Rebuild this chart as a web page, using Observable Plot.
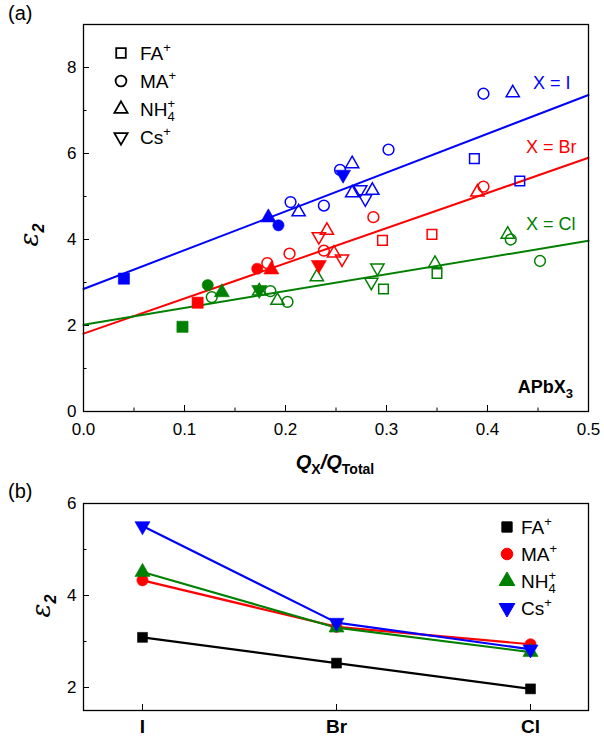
<!DOCTYPE html>
<html><head><meta charset="utf-8">
<script src="https://cdn.jsdelivr.net/npm/d3@7"></script>
<script src="https://cdn.jsdelivr.net/npm/@observablehq/plot@0.6"></script>
<style>
body{margin:0;background:#fff;font-family:"Liberation Sans",Arial,sans-serif;}
#wrap{position:relative;width:604px;height:745px;overflow:hidden;}
#a,#b{position:absolute;left:0;}
#a{top:0}#b{top:480px}
</style></head><body><div id="wrap"><div id="a"></div><div id="b"></div></div>
<script>
// ---------- data ----------
const halides = ["I", "Br", "Cl"];
const halideColors = ["#0000ff", "#ff0000", "#008000"];
const cations = ["FA", "MA", "NH4", "Cs"];
const cationColors = ["#000000", "#ff0000", "#008000", "#0000ff"];

// panel (b): epsilon2 per halide (I, Br, Cl); also the filled markers of (a)
const epsFA  = [3.09, 2.53, 1.97];
const epsMA  = [4.33, 3.32, 2.94];
const epsNH4 = [4.51, 3.30, 2.77];
const epsCs  = [5.51, 3.41, 2.83];
// Q_X/Q_Total of the filled markers in (a), per halide (I, Br, Cl)
const qFA  = [0.040, 0.113, 0.098];
const qMA  = [0.193, 0.172, 0.123];
const qNH4 = [0.183, 0.186, 0.137];
const qCs  = [0.257, 0.233, 0.174];

// open markers of (a): [Q_X/Q_Total, epsilon2]
const openI_FA  = [[0.387, 5.88], [0.432, 5.36]];
const openI_MA  = [[0.205, 4.87], [0.238, 4.79], [0.302, 6.09], [0.396, 7.39], [0.254, 5.62]];
const openI_NH4 = [[0.213, 4.64], [0.266, 5.76], [0.266, 5.08], [0.286, 5.14], [0.425, 7.41]];
const openI_Cs  = [[0.274, 5.16], [0.279, 4.95]];
const openBr_FA  = [[0.296, 3.98], [0.345, 4.12]];
const openBr_MA  = [[0.182, 3.45], [0.204, 3.67], [0.238, 3.74], [0.287, 4.52], [0.396, 5.23]];
const openBr_NH4 = [[0.241, 4.21], [0.248, 3.68], [0.390, 5.10]];
const openBr_Cs  = [[0.233, 4.07], [0.256, 3.55]];
const openCl_FA  = [[0.297, 2.85], [0.350, 3.21]];
const openCl_MA  = [[0.127, 2.66], [0.185, 2.80], [0.202, 2.55], [0.423, 4.00], [0.452, 3.50]];
const openCl_NH4 = [[0.192, 2.58], [0.231, 3.13], [0.348, 3.44], [0.420, 4.12], [0.174, 2.80]];
const openCl_Cs  = [[0.291, 3.34], [0.285, 3.01]];

// linear fits of (a), evaluated at the ends of the axis
const fitQ  = [0, 0.5];
const fitI  = [2.85, 7.36];
const fitBr = [1.81, 5.90];
const fitCl = [2.02, 3.97];

// line labels of (a)
const labelText = ["X = I", "X = Br", "X = Cl"];
const labelQ   = [0.445, 0.438, 0.438];
const labelEps = [7.63, 6.15, 4.35];

// ticks
const xMajorA = [0, 0.1, 0.2, 0.3, 0.4, 0.5];
const xMinorA = [0.05, 0.15, 0.25, 0.35, 0.45];
const yMajorA = [0, 2, 4, 6, 8];
const yMinorA = [1, 3, 5, 7];
const yMajorB = [2, 4, 6];
const yMinorB = [3, 5];

// ---------- tables ----------
const epsBy = {FA: epsFA, MA: epsMA, NH4: epsNH4, Cs: epsCs};
const qBy = {FA: qFA, MA: qMA, NH4: qNH4, Cs: qCs};
const openBy = {
  I:  {FA: openI_FA, MA: openI_MA, NH4: openI_NH4, Cs: openI_Cs},
  Br: {FA: openBr_FA, MA: openBr_MA, NH4: openBr_NH4, Cs: openBr_Cs},
  Cl: {FA: openCl_FA, MA: openCl_MA, NH4: openCl_NH4, Cs: openCl_Cs}
};
const fitBy = {I: fitI, Br: fitBr, Cl: fitCl};

const pts = [];
halides.forEach((h, i) => cations.forEach(c => {
  openBy[h][c].forEach(([q, e]) => pts.push({q, eps: e, halide: h, cation: c, filled: false}));
  pts.push({q: qBy[c][i], eps: epsBy[c][i], halide: h, cation: c, filled: true});
}));
const fitRows = [];
halides.forEach(h => fitQ.forEach((q, j) => fitRows.push({q, eps: fitBy[h][j], halide: h})));
const labelRows = halides.map((h, i) => ({text: labelText[i], q: labelQ[i], eps: labelEps[i], halide: h}));
const bRows = [];
cations.forEach(c => halides.forEach((h, i) => bRows.push({halide: h, cation: c, eps: epsBy[c][i]})));

// ---------- symbols ----------
const sqrt3 = Math.sqrt(3);
const invTri = {draw(ctx, size) {
  const y = -Math.sqrt(size / (sqrt3 * 3));
  ctx.moveTo(0, -y * 2); ctx.lineTo(-sqrt3 * y, y); ctx.lineTo(sqrt3 * y, y); ctx.closePath();
}};
const symbolOf = {FA: "square", MA: "circle", NH4: "triangle", Cs: invTri};
const d3SymbolOf = {FA: d3.symbolSquare, MA: d3.symbolCircle, NH4: d3.symbolTriangle, Cs: invTri};
const rOpen = {FA: 5.4, MA: 5.4, NH4: 4.9, Cs: 4.9};
const rFill = {FA: 6.3, MA: 5.6, NH4: 5.6, Cs: 5.6};
const FONT = "'Liberation Sans', Arial, sans-serif";

// ---------- panel (a) ----------
const marksA = [
  Plot.axisX({ticks: xMajorA, tickSize: -6, tickPadding: 17, tickFormat: d => d.toFixed(1), label: null, fontSize: 17}),
  Plot.axisX({ticks: xMinorA, tickSize: -3.5, tickFormat: () => "", label: null}),
  Plot.axisY({ticks: yMajorA, tickSize: -6, tickPadding: 13, label: null, fontSize: 17}),
  Plot.axisY({ticks: yMinorA, tickSize: -3.5, tickFormat: () => "", label: null}),
  Plot.line(fitRows, {x: "q", y: "eps", stroke: "halide", z: "halide", strokeWidth: 2})
];
cations.forEach(c => {
  marksA.push(Plot.dot(pts.filter(d => !d.filled && d.cation === c),
    {x: "q", y: "eps", stroke: "halide", fill: "none", symbol: symbolOf[c], r: rOpen[c], strokeWidth: 1.5}));
});
cations.forEach(c => {
  marksA.push(Plot.dot(pts.filter(d => d.filled && d.cation === c),
    {x: "q", y: "eps", stroke: "halide", fill: "halide", symbol: symbolOf[c], r: rFill[c], strokeWidth: 0.6}));
});
marksA.push(Plot.text(labelRows, {x: "q", y: "eps", text: "text", fill: "halide", textAnchor: "start", fontSize: 18}));
marksA.push(Plot.frame({stroke: "black", strokeWidth: 1.3}));

const plotA = Plot.plot({
  width: 604, height: 480,
  marginTop: 24, marginRight: 16, marginBottom: 69, marginLeft: 83,
  x: {domain: [0, 0.5]},
  y: {domain: [0, 9]},
  color: {domain: halides, range: halideColors},
  style: {fontFamily: FONT, fontSize: "17px", color: "#000", background: "white", overflow: "visible"},
  marks: marksA
});
document.getElementById("a").appendChild(plotA);

// ---------- panel (b) ----------
const marksB = [
  Plot.axisX({tickSize: -6, tickPadding: 15, label: null, fontSize: 19, fontWeight: "bold"}),
  Plot.axisY({ticks: yMajorB, tickSize: -6, tickPadding: 13, tickFormat: d => String(d), label: null, fontSize: 17}),
  Plot.axisY({ticks: yMinorB, tickSize: -3.5, tickFormat: () => "", label: null})
];
cations.forEach(c => {
  marksB.push(Plot.line(bRows.filter(d => d.cation === c), {x: "halide", y: "eps", stroke: "cation", strokeWidth: 2.2}));
});
cations.forEach(c => {
  marksB.push(Plot.dot(bRows.filter(d => d.cation === c),
    {x: "halide", y: "eps", fill: "cation", stroke: "cation", strokeWidth: 0.6, symbol: symbolOf[c], r: 5.6}));
});
marksB.push(Plot.frame({stroke: "black", strokeWidth: 1.3}));

const plotB = Plot.plot({
  width: 604, height: 265,
  marginTop: 23, marginRight: 16, marginBottom: 35, marginLeft: 83,
  x: {type: "point", domain: halides, padding: 0.3},
  y: {domain: [1.5, 6]},
  color: {domain: cations, range: cationColors},
  style: {fontFamily: FONT, fontSize: "17px", color: "#000", background: "white", overflow: "visible"},
  marks: marksB
});
document.getElementById("b").appendChild(plotB);

// ---------- rich text annotations ----------
function cationLabel(sel, c) {
  const map = {FA: "FA", MA: "MA", NH4: "NH", Cs: "Cs"};
  sel.append("tspan").text(map[c]);
  if (c === "NH4") {
    sel.append("tspan").attr("font-size", 13).attr("dy", 5).text("4");
    sel.append("tspan").attr("font-size", 13).attr("dx", -7.3).attr("dy", -13).text("+");
  } else {
    sel.append("tspan").attr("font-size", 13).attr("dy", -8).text("+");
  }
}

const sa = d3.select(plotA);
// legend (a): open black markers
cations.forEach((c, i) => {
  const cy = 53 + i * 28;
  sa.append("path").attr("transform", `translate(121,${cy})`)
    .attr("d", d3.symbol(d3SymbolOf[c], Math.PI * rOpen[c] * rOpen[c])())
    .attr("fill", "none").attr("stroke", "black").attr("stroke-width", 1.8);
  const t = sa.append("text").attr("x", 140).attr("y", cy + 7).attr("text-anchor", "start")
    .attr("font-size", 19).attr("fill", "black");
  cationLabel(t, c);
});
// APbX3
{
  const t = sa.append("text").attr("x", 573).attr("y", 393).attr("text-anchor", "end")
    .attr("font-size", 18).attr("font-weight", "bold");
  t.append("tspan").text("APbX");
  t.append("tspan").attr("font-size", 13).attr("dy", 5).text("3");
}
// x label (a)
{
  const t = sa.append("text").attr("x", 335).attr("y", 469).attr("text-anchor", "middle")
    .attr("font-size", 20).attr("font-weight", "bold");
  t.append("tspan").attr("font-style", "italic").text("Q");
  t.append("tspan").attr("font-size", 14).attr("dy", 5).text("X");
  t.append("tspan").attr("dy", -5).attr("font-style", "italic").text("/Q");
  t.append("tspan").attr("font-size", 14).attr("dy", 5).text("Total");
}
// y labels
function epsLabel(sel, x, y) {
  const t = sel.append("text").attr("transform", `translate(${x},${y}) rotate(-90)`)
    .attr("text-anchor", "middle").attr("font-size", 26).attr("font-style", "italic")
    .attr("font-family", "'DejaVu Serif', serif");
  t.append("tspan").text("ε");
  t.append("tspan").attr("font-size", 16).attr("dy", 6).attr("font-style", "italic").attr("font-weight", "bold")
    .attr("font-family", FONT).text("2");
}
epsLabel(sa, 38, 235);
sa.append("text").attr("x", 8).attr("y", 20).attr("text-anchor", "start").attr("font-size", 20).text("(a)");

const sb = d3.select(plotB);
epsLabel(sb, 50, 126);
sb.append("text").attr("x", 8).attr("y", 18).attr("text-anchor", "start").attr("font-size", 20).text("(b)");
cations.forEach((c, i) => {
  const cy = 47 + i * 27;
  sb.append("path").attr("transform", `translate(507,${cy})`)
    .attr("d", d3.symbol(d3SymbolOf[c], Math.PI * 5.8 * 5.8)())
    .attr("fill", cationColors[i]).attr("stroke", cationColors[i]);
  const t = sb.append("text").attr("x", 521).attr("y", cy + 7).attr("text-anchor", "start")
    .attr("font-size", 19).attr("fill", "black");
  cationLabel(t, c);
});
</script>
</body></html>
